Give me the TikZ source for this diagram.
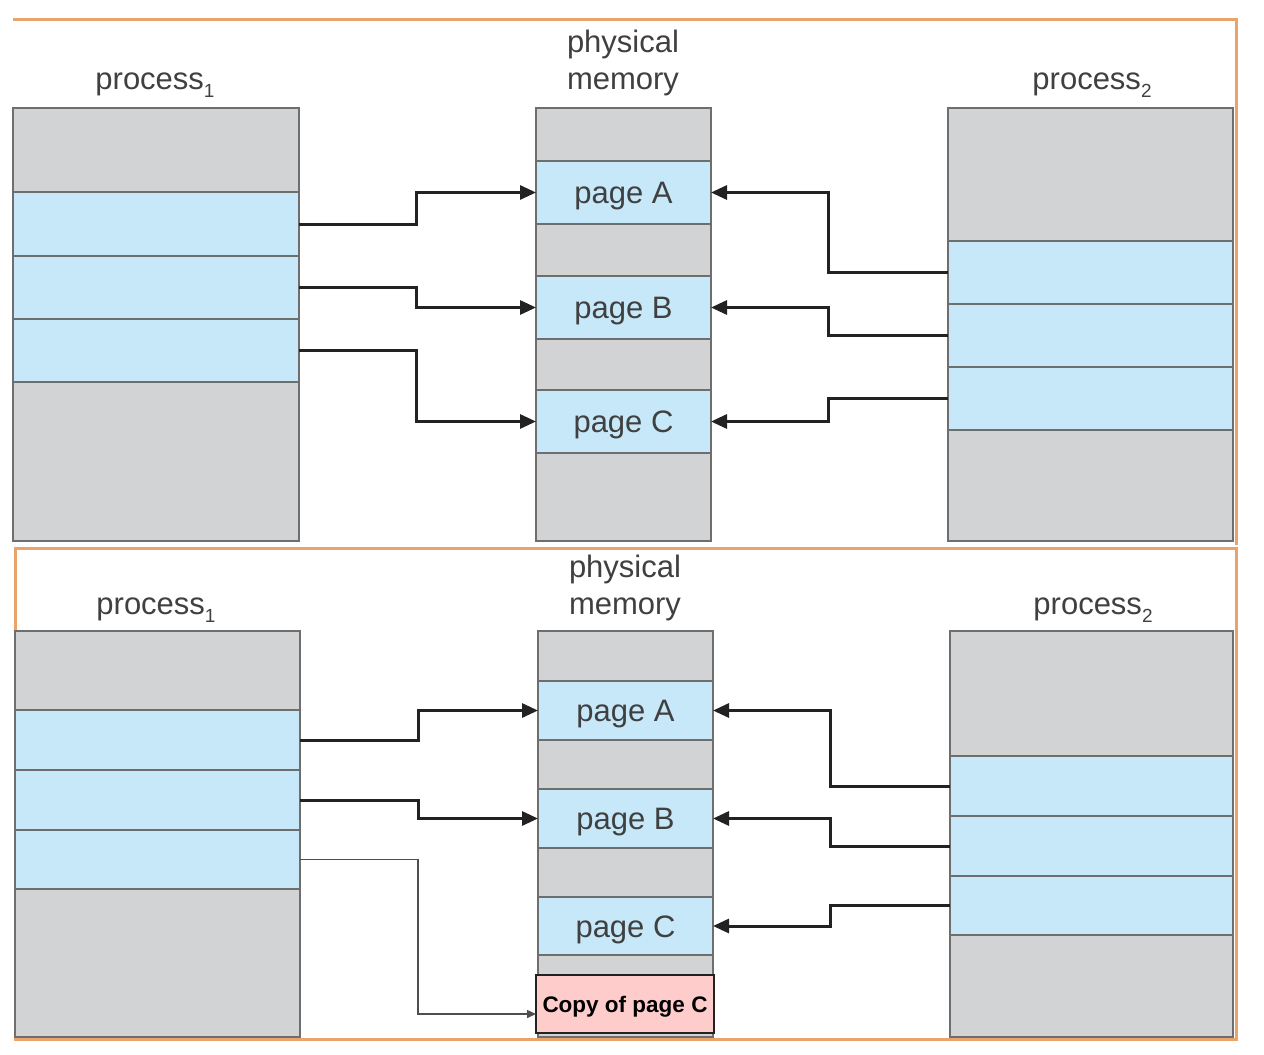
\documentclass[tikz,border=0pt]{standalone}
\usepackage{fontspec}
\setmainfont{Liberation Sans}
\usetikzlibrary{arrows.meta}
\definecolor{grayfill}{HTML}{D1D3D4}
\definecolor{bluefill}{HTML}{C6E8F8}
\definecolor{pinkfill}{HTML}{FFCCCC}
\definecolor{boxline}{HTML}{6E6E6E}
\definecolor{txtgray}{HTML}{404040}
\definecolor{arrcol}{HTML}{222222}
\definecolor{orangeline}{HTML}{E9A46C}
\newcommand{\cellbox}[7]{\node[#6, minimum width=#4pt, minimum height=#5pt, anchor=north west] (#1) at (#2,#3) {#7};}
\newcommand{\subs}[1]{\raisebox{-0.28em}{\fontsize{19}{20}\selectfont #1}}
\begin{document}
\begin{tikzpicture}[x=1pt,y=-1pt,
  cellbase/.style={draw=boxline, line width=1.8pt, inner sep=0pt, outer sep=0pt, text=txtgray, font=\fontsize{31}{36}\selectfont, text height=24pt, text depth=2pt},
  gcell/.style={cellbase, fill=grayfill},
  bcell/.style={cellbase, fill=bluefill},
  pcell/.style={cellbase, fill=pinkfill, draw=arrcol, line width=1.5pt, text=black, font=\bfseries\fontsize{22.5}{26}\selectfont, text height=17pt, text depth=1pt},
  lab/.style={text=txtgray, font=\fontsize{31}{37}\selectfont, inner sep=0pt, align=center},
  arr/.style={draw=arrcol, line width=3pt, -{Triangle[length=16pt,width=14pt]}},
  thinarr/.style={draw=arrcol!80, line width=1.5pt, -{Triangle[length=9pt,width=8pt]}},
  frameline/.style={draw=orangeline, line width=3pt}
]
\useasboundingbox[fill=white] (0,0) rectangle (1264,1055);

% ---------------- top panel ----------------
\draw[frameline] (13,19) -- (1236,19) -- (1236,545);
\node[lab] (tl1) at (155,85) {process\subs{1}};
\node[lab] (tlm) at (623,63) {physical\\memory};
\node[lab] (tl2) at (1092,85) {process\subs{2}};

\cellbox{t1g1}{13}{108}{286}{84}{gcell}{}
\cellbox{t1b1}{13}{192}{286}{64}{bcell}{}
\cellbox{t1b2}{13}{256}{286}{63}{bcell}{}
\cellbox{t1b3}{13}{319}{286}{63}{bcell}{}
\cellbox{t1g2}{13}{382}{286}{159}{gcell}{}

\cellbox{tmg1}{536}{108}{175}{53}{gcell}{}
\cellbox{tA}{536}{161}{175}{63}{bcell}{page A}
\cellbox{tmg2}{536}{224}{175}{52}{gcell}{}
\cellbox{tB}{536}{276}{175}{63}{bcell}{page B}
\cellbox{tmg3}{536}{339}{175}{51}{gcell}{}
\cellbox{tC}{536}{390}{175}{63}{bcell}{page C}
\cellbox{tmg4}{536}{453}{175}{88}{gcell}{}

\cellbox{t2g1}{948}{108}{285}{133}{gcell}{}
\cellbox{t2b1}{948}{241}{285}{63}{bcell}{}
\cellbox{t2b2}{948}{304}{285}{63}{bcell}{}
\cellbox{t2b3}{948}{367}{285}{63}{bcell}{}
\cellbox{t2g2}{948}{430}{285}{111}{gcell}{}

\draw[arr] (t1b1.east) -- ++(117,0) |- (tA.west);
\draw[arr] (t1b2.east) -- ++(117,0) |- (tB.west);
\draw[arr] (t1b3.east) -- ++(117,0) |- (tC.west);
\draw[arr] (t2b1.west) -- ++(-120,0) |- (tA.east);
\draw[arr] (t2b2.west) -- ++(-120,0) |- (tB.east);
\draw[arr] (t2b3.west) -- ++(-120,0) |- (tC.east);

% ---------------- bottom panel ----------------
\draw[frameline] (15,548) rectangle (1236,1039);
\node[lab] (bl1) at (156,610) {process\subs{1}};
\node[lab] (blm) at (625,588) {physical\\memory};
\node[lab] (bl2) at (1093,610) {process\subs{2}};

\cellbox{b1g1}{15}{631}{285}{79}{gcell}{}
\cellbox{b1b1}{15}{710}{285}{60}{bcell}{}
\cellbox{b1b2}{15}{770}{285}{60}{bcell}{}
\cellbox{b1b3}{15}{830}{285}{59}{bcell}{}
\cellbox{b1g2}{15}{889}{285}{148}{gcell}{}

\cellbox{bmg1}{538}{631}{175}{50}{gcell}{}
\cellbox{bA}{538}{681}{175}{59}{bcell}{page A}
\cellbox{bmg2}{538}{740}{175}{49}{gcell}{}
\cellbox{bB}{538}{789}{175}{59}{bcell}{page B}
\cellbox{bmg3}{538}{848}{175}{49}{gcell}{}
\cellbox{bC}{538}{897}{175}{58}{bcell}{page C}
\cellbox{bmg4}{538}{955}{175}{82}{gcell}{}
\cellbox{bcopy}{536}{975}{178}{58}{pcell}{Copy of page C}

\cellbox{b2g1}{950}{631}{283}{125}{gcell}{}
\cellbox{b2b1}{950}{756}{283}{60}{bcell}{}
\cellbox{b2b2}{950}{816}{283}{60}{bcell}{}
\cellbox{b2b3}{950}{876}{283}{59}{bcell}{}
\cellbox{b2g2}{950}{935}{283}{102}{gcell}{}

\draw[arr] (b1b1.east) -- ++(118,0) |- (bA.west);
\draw[arr] (b1b2.east) -- ++(118,0) |- (bB.west);
\draw[thinarr] (b1b3.east) -- ++(118,0) |- ([yshift=-10pt]bcopy.west);
\draw[arr] (b2b1.west) -- ++(-120,0) |- (bA.east);
\draw[arr] (b2b2.west) -- ++(-120,0) |- (bB.east);
\draw[arr] (b2b3.west) -- ++(-120,0) |- (bC.east);
\end{tikzpicture}
\end{document}
